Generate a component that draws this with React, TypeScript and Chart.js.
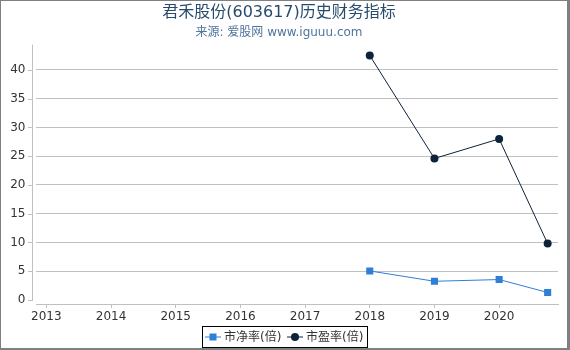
import React, { useEffect, useRef } from "react";
import { Chart, registerables } from "chart.js";

Chart.register(...registerables);

const FONT = "'DejaVu Sans', 'Noto Sans CJK SC', sans-serif";

const titleText = "君禾股份(603617)历史财务指标";
const subtitleText = "来源: 爱股网 www.iguuu.com";

// Report periods (year, fractional for Q3 2020)
const periods = [2018, 2019, 2020, 2020.75];
const pbValues = [5.05, 3.25, 3.55, 1.3];
const peValues = [42.5, 24.6, 28.0, 9.8];
const seriesNames = ["市净率(倍)", "市盈率(倍)"];
const yearTicks = [2013, 2014, 2015, 2016, 2017, 2018, 2019, 2020];
const yTicks = [0, 5, 10, 15, 20, 25, 30, 35, 40];

const PB_COLOR = "#2f7ed8";
const PE_COLOR = "#0d233a";

const decorPlugin = {
  id: "decor",
  afterDraw(chart: any) {
    const ctx = chart.ctx;
    const y = chart.scales.y;
    const area = chart.chartArea;
    ctx.save();
    // y axis line and ticks
    ctx.strokeStyle = "#c0c0c0";
    ctx.lineWidth = 1;
    const y0 = Math.round(y.getPixelForValue(0)) + 0.5;
    ctx.beginPath();
    ctx.moveTo(32.5, area.top);
    ctx.lineTo(32.5, y0);
    for (const v of yTicks) {
      const py = Math.round(y.getPixelForValue(v)) + 0.5;
      ctx.moveTo(28, py);
      ctx.lineTo(33, py);
    }
    ctx.stroke();

    // legend
    const bx = 202.5, by = 326.5, bw = 165, bh = 21;
    ctx.strokeStyle = "#000";
    ctx.lineWidth = 1;
    ctx.strokeRect(bx, by, bw, bh);
    const cy = by + bh / 2;
    ctx.font = `12px ${FONT}`;
    ctx.textBaseline = "middle";
    ctx.textAlign = "left";
    const items = [
      { x: 205, color: PB_COLOR, shape: "rect", label: seriesNames[0] },
      { x: 287, color: PE_COLOR, shape: "circle", label: seriesNames[1] },
    ];
    for (const it of items) {
      ctx.strokeStyle = it.color;
      ctx.lineWidth = 1;
      ctx.beginPath();
      ctx.moveTo(it.x, cy);
      ctx.lineTo(it.x + 16, cy);
      ctx.stroke();
      ctx.fillStyle = it.color;
      if (it.shape === "rect") {
        ctx.fillRect(it.x + 8 - 3.5, cy - 3.5, 7, 7);
      } else {
        ctx.beginPath();
        ctx.arc(it.x + 8, cy, 4, 0, Math.PI * 2);
        ctx.fill();
      }
      ctx.fillStyle = "#333";
      ctx.fillText(it.label, it.x + 19, cy + 0.5);
    }

    // outer frame
    ctx.fillStyle = "#808080";
    ctx.fillRect(0, 0, 570, 1);
    ctx.fillRect(0, 0, 1, 350);
    ctx.fillRect(567, 0, 3, 350);
    ctx.fillRect(0, 348, 570, 2);
    ctx.restore();
  },
};

export default function App() {
  const ref = useRef<HTMLCanvasElement>(null);
  useEffect(() => {
    document.body.style.margin = "0";
    const chart = new Chart(ref.current!, {
      type: "line",
      data: {
        datasets: [
          {
            label: seriesNames[0],
            data: periods.map((p, i) => ({ x: p, y: pbValues[i] })),
            borderColor: PB_COLOR,
            backgroundColor: PB_COLOR,
            borderWidth: 1,
            pointStyle: "rect",
            pointRadius: 5,
            pointBorderWidth: 0,
          },
          {
            label: seriesNames[1],
            data: periods.map((p, i) => ({ x: p, y: peValues[i] })),
            borderColor: PE_COLOR,
            backgroundColor: PE_COLOR,
            borderWidth: 1,
            pointStyle: "circle",
            pointRadius: 4,
            pointBorderWidth: 0,
          },
        ],
      },
      options: {
        animation: false,
        responsive: false,
        devicePixelRatio: 1,
        layout: { padding: { left: 0, right: 12, top: 0, bottom: 0 } },
        plugins: {
          legend: { display: false },
          tooltip: { enabled: false },
          title: {
            display: true,
            text: titleText,
            color: "#274b6d",
            font: { family: FONT, size: 16, weight: "normal" },
            padding: { top: 3.5, bottom: 2.5 },
          },
          subtitle: {
            display: true,
            text: subtitleText,
            color: "#4d759e",
            font: { family: FONT, size: 12, weight: "normal" },
            padding: { top: 0, bottom: 5 },
          },
        },
        scales: {
          x: {
            type: "linear",
            min: 2012.84,
            max: 2020.91,
            afterBuildTicks: (s: any) => {
              s.ticks = yearTicks.map((v) => ({ value: v }));
            },
            afterFit: (s: any) => {
              s.height = 46;
            },
            grid: {
              drawOnChartArea: false,
              drawTicks: true,
              tickLength: 4,
              color: "#c0c0c0",
            },
            border: { display: true, color: "#c0c0c0" },
            ticks: {
              color: "#333",
              font: { family: FONT, size: 12 },
              padding: 2,
              maxRotation: 0,
              autoSkip: false,
              callback: (v: any) => String(v),
            },
          },
          y: {
            min: -0.7,
            max: 44.4,
            afterBuildTicks: (s: any) => {
              s.ticks = yTicks.map((v) => ({ value: v }));
            },
            afterFit: (s: any) => {
              s.width = 36;
            },
            grid: {
              drawTicks: false,
              color: (c: any) => (c.tick && c.tick.value === 0 ? "rgba(0,0,0,0)" : "#c0c0c0"),
            },
            border: { display: false },
            ticks: {
              color: "#333",
              font: { family: FONT, size: 12 },
              padding: 10.5,
              callback: (v: any) => String(v),
            },
          },
        },
      },
      plugins: [decorPlugin],
    } as any);
    return () => chart.destroy();
  }, []);
  return (
    <div style={{ position: "fixed", left: 0, top: 0, width: 570, height: 350, background: "#fff" }}>
      <canvas ref={ref} width={570} height={350} />
    </div>
  );
}
